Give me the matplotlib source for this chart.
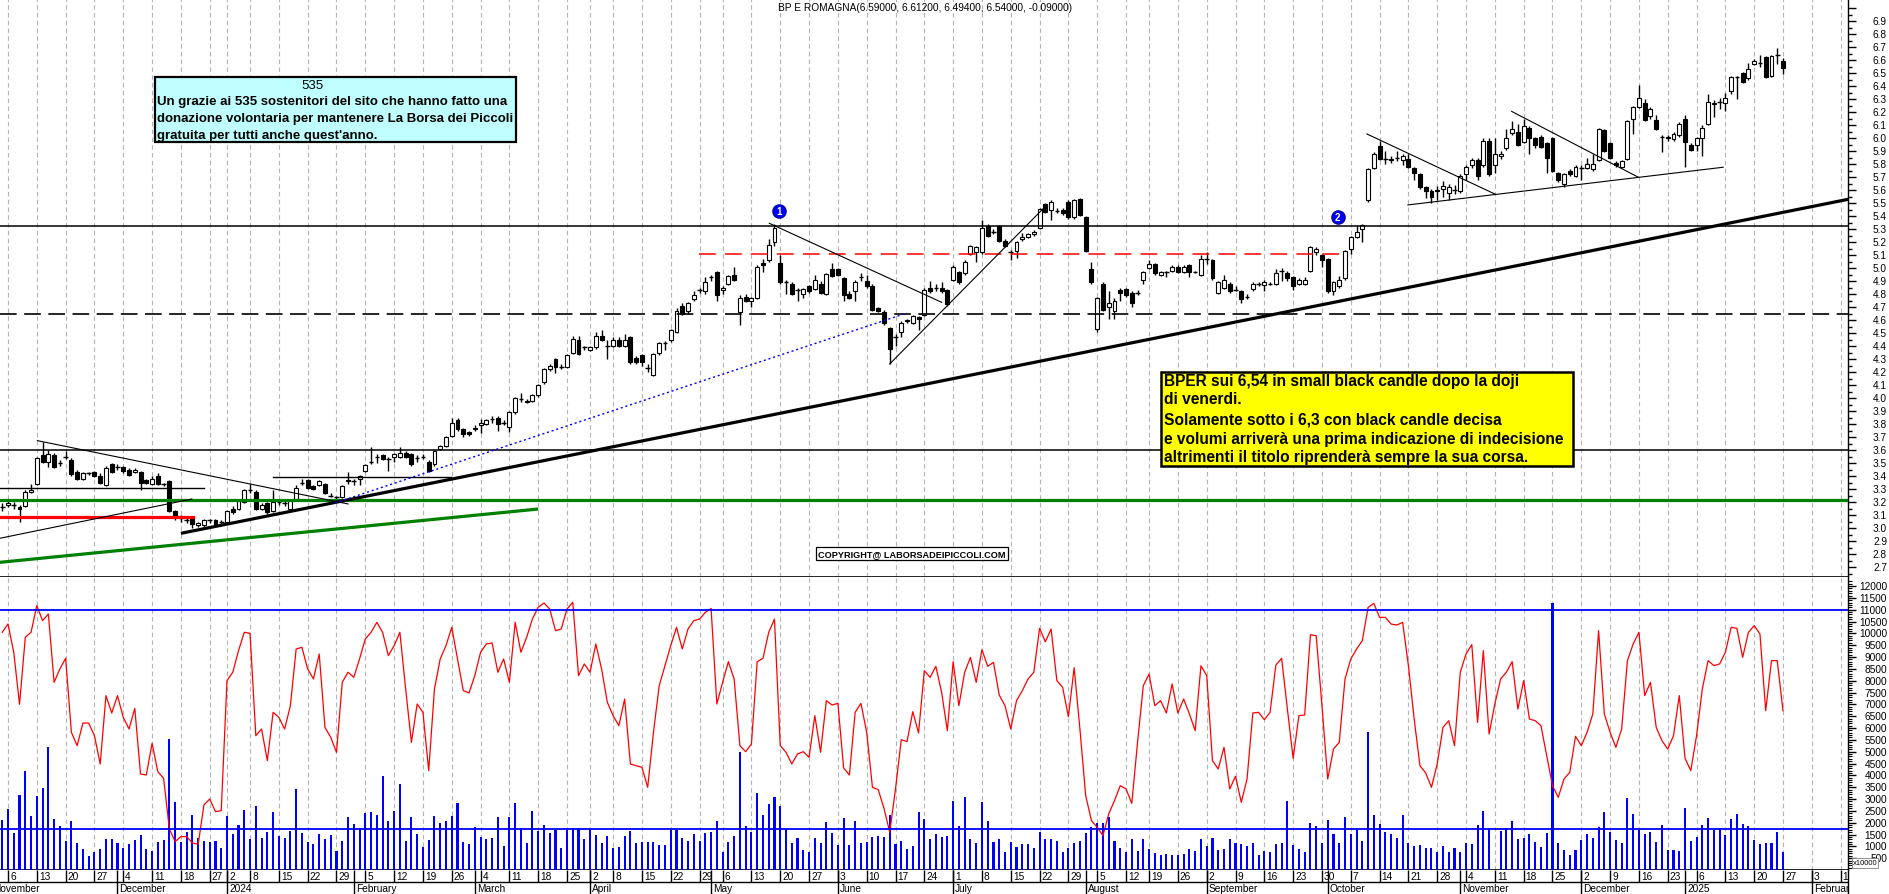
import numpy as np
import pandas as pd
import matplotlib
matplotlib.use("Agg")
import matplotlib.pyplot as plt
from matplotlib.patches import Rectangle

plt.rcParams['font.family'] = ['Liberation Sans', 'DejaVu Sans']

W, H = 1890, 895

# trading calendar (Borsa Italiana closures removed)
holidays = pd.to_datetime(["2023-12-25", "2023-12-26", "2024-01-01", "2024-03-29", "2024-04-01",
                           "2024-05-01", "2024-08-15", "2024-12-24", "2024-12-25", "2024-12-26",
                           "2024-12-31", "2025-01-01"])
days = pd.bdate_range("2023-11-01", "2025-02-14")
days = days[~days.isin(holidays)]
pos = np.arange(len(days)) - 3          # 6 Nov 2023 -> 0
first_bar = 2                           # data starts 3 Nov 2023

opens = [
    3.16, 3.18, 3.18, 3.16, 3.17, 3.28, 3.34, 3.56, 3.51, 3.565,
    3.50, 3.55, 3.52, 3.43, 3.38, 3.42, 3.43, 3.40, 3.33, 3.49,
    3.47, 3.47, 3.45, 3.43, 3.43, 3.37, 3.34, 3.40, 3.34, 3.36,
    3.13, 3.08, 3.06, 3.08, 3.02, 3.02, 3.06, 3.06, 3.05, 3.05,
    3.15, 3.15, 3.20, 3.29, 3.28, 3.15, 3.19, 3.13, 3.20, 3.19,
    3.15, 3.22, 3.35, 3.37, 3.32, 3.33, 3.34, 3.25, 3.24, 3.24,
    3.36, 3.36, 3.38, 3.44, 3.51, 3.55, 3.56, 3.53, 3.55, 3.55,
    3.58, 3.57, 3.54, 3.55, 3.51, 3.49, 3.61, 3.63, 3.71, 3.83,
    3.76, 3.74, 3.76, 3.79, 3.80, 3.84, 3.85, 3.81, 3.775, 3.89,
    3.99, 3.98, 3.98, 4.02, 4.12, 4.22, 4.30, 4.24, 4.24, 4.35,
    4.45, 4.39, 4.37, 4.39, 4.48, 4.40, 4.40, 4.45, 4.40, 4.47,
    4.31, 4.33, 4.23, 4.18, 4.35, 4.42, 4.45, 4.51, 4.71, 4.67,
    4.76, 4.83, 4.82, 4.93, 4.97, 4.83, 4.88, 4.95, 4.66, 4.78,
    4.75, 4.77, 5.04, 5.06, 5.20, 5.04, 4.89, 4.88, 4.83, 4.80,
    4.86, 4.84, 4.88, 4.80, 4.99, 4.99, 4.92, 4.80, 4.82, 4.93,
    4.90, 4.86, 4.69, 4.66, 4.54, 4.47, 4.51, 4.60, 4.58, 4.62,
    4.64, 4.85, 4.85, 4.85, 4.83, 4.91, 4.97, 4.96, 5.11, 5.12,
    5.12, 5.32, 5.28, 5.32, 5.21, 5.12, 5.13, 5.22, 5.24, 5.26,
    5.31, 5.49, 5.45, 5.44, 5.45, 5.51, 5.39, 5.53, 5.39, 4.99,
    4.53, 4.88, 4.70, 4.67, 4.83, 4.84, 4.81, 4.81, 4.91, 5.00,
    5.03, 4.95, 4.97, 4.98, 5.01, 4.97, 5.02, 4.97, 4.95, 5.07,
    5.06, 4.81, 4.85, 4.88, 4.83, 4.82, 4.78, 4.84, 4.88, 4.87,
    4.88, 4.88, 4.98, 4.96, 4.93, 4.88, 4.88, 4.98, 5.12, 5.10,
    5.07, 4.82, 4.86, 4.92, 5.15, 5.24, 5.30, 5.52, 5.77, 5.94,
    5.84, 5.83, 5.85, 5.83, 5.84, 5.77, 5.72, 5.62, 5.59, 5.60,
    5.61, 5.58, 5.60, 5.59, 5.72, 5.79, 5.83, 5.79, 5.98, 5.79,
    5.86, 5.92, 6.04, 6.05, 5.97, 6.08, 6.00, 6.01, 5.96, 6.00,
    5.73, 5.65, 5.75, 5.71, 5.77, 5.77, 5.76, 5.83, 6.06, 5.96,
    5.81, 5.78, 5.84, 6.15, 6.24, 6.27, 6.17, 6.14, 6.01, 6.01,
    5.99, 6.02, 6.15, 5.95, 5.95, 6.00, 6.11, 6.26, 6.28, 6.27,
    6.36, 6.47, 6.50, 6.46, 6.57, 6.58, 6.62, 6.48, 6.64, 6.59,
]
highs = [
    3.19, 3.21, 3.20, 3.18, 3.29, 3.34, 3.55, 3.66, 3.60, 3.58,
    3.52, 3.59, 3.54, 3.45, 3.43, 3.43, 3.44, 3.42, 3.48, 3.50,
    3.49, 3.48, 3.46, 3.46, 3.44, 3.38, 3.40, 3.42, 3.35, 3.37,
    3.14, 3.10, 3.08, 3.09, 3.05, 3.07, 3.07, 3.07, 3.06, 3.14,
    3.17, 3.22, 3.30, 3.34, 3.29, 3.19, 3.20, 3.29, 3.22, 3.22,
    3.22, 3.33, 3.38, 3.38, 3.33, 3.37, 3.35, 3.27, 3.25, 3.33,
    3.43, 3.38, 3.41, 3.49, 3.62, 3.57, 3.57, 3.55, 3.58, 3.62,
    3.59, 3.58, 3.56, 3.57, 3.52, 3.60, 3.64, 3.71, 3.85, 3.85,
    3.77, 3.75, 3.79, 3.84, 3.84, 3.86, 3.86, 3.83, 3.90, 4.01,
    4.04, 3.99, 4.03, 4.11, 4.23, 4.26, 4.31, 4.26, 4.34, 4.48,
    4.48, 4.40, 4.40, 4.51, 4.52, 4.45, 4.47, 4.47, 4.49, 4.48,
    4.32, 4.34, 4.26, 4.35, 4.43, 4.44, 4.53, 4.69, 4.73, 4.74,
    4.82, 4.85, 4.93, 4.95, 4.98, 4.86, 4.95, 5.01, 4.79, 4.80,
    4.78, 5.02, 5.07, 5.22, 5.34, 5.10, 4.91, 4.89, 4.85, 4.85,
    4.87, 4.95, 4.90, 4.96, 5.04, 5.00, 4.93, 4.82, 4.91, 4.96,
    4.95, 4.88, 4.70, 4.68, 4.55, 4.49, 4.59, 4.61, 4.64, 4.63,
    4.85, 4.90, 4.88, 4.89, 4.84, 5.02, 4.98, 5.06, 5.18, 5.17,
    5.37, 5.34, 5.30, 5.33, 5.22, 5.14, 5.21, 5.27, 5.27, 5.29,
    5.46, 5.50, 5.52, 5.46, 5.46, 5.52, 5.53, 5.54, 5.40, 5.05,
    4.78, 4.89, 4.82, 4.77, 4.85, 4.85, 4.82, 4.83, 4.98, 5.06,
    5.04, 4.98, 4.98, 5.02, 5.02, 5.02, 5.03, 4.98, 5.10, 5.12,
    5.07, 4.90, 4.95, 4.89, 4.86, 4.83, 4.80, 4.89, 4.89, 4.91,
    4.89, 4.99, 5.00, 4.98, 4.94, 4.92, 4.93, 5.17, 5.16, 5.11,
    5.08, 4.90, 4.94, 5.14, 5.25, 5.33, 5.34, 5.77, 5.89, 5.98,
    5.90, 5.86, 5.90, 5.88, 5.88, 5.78, 5.73, 5.63, 5.61, 5.63,
    5.67, 5.65, 5.64, 5.72, 5.79, 5.85, 5.85, 6.00, 6.00, 6.00,
    5.90, 6.07, 6.13, 6.11, 6.15, 6.09, 6.01, 6.02, 5.97, 6.01,
    5.74, 5.73, 5.76, 5.79, 5.79, 5.85, 5.88, 6.08, 6.07, 5.97,
    5.82, 5.83, 6.14, 6.25, 6.41, 6.30, 6.24, 6.18, 6.02, 6.02,
    6.05, 6.12, 6.18, 5.96, 6.01, 6.10, 6.34, 6.29, 6.31, 6.35,
    6.48, 6.48, 6.51, 6.58, 6.61, 6.64, 6.63, 6.64, 6.69, 6.612,
]
lows = [
    3.13, 3.16, 3.15, 3.05, 3.16, 3.27, 3.33, 3.50, 3.47, 3.46,
    3.48, 3.53, 3.40, 3.37, 3.37, 3.41, 3.39, 3.34, 3.32, 3.42,
    3.45, 3.42, 3.40, 3.42, 3.29, 3.34, 3.33, 3.33, 3.32, 3.12,
    3.06, 3.05, 3.04, 3.00, 3.01, 3.01, 3.04, 3.01, 3.03, 3.04,
    3.11, 3.14, 3.19, 3.27, 3.14, 3.14, 3.11, 3.12, 3.18, 3.17,
    3.14, 3.21, 3.33, 3.30, 3.29, 3.32, 3.26, 3.24, 3.22, 3.23,
    3.34, 3.33, 3.33, 3.43, 3.49, 3.50, 3.52, 3.44, 3.51, 3.54,
    3.54, 3.48, 3.51, 3.53, 3.43, 3.48, 3.60, 3.62, 3.70, 3.75,
    3.70, 3.71, 3.75, 3.73, 3.79, 3.81, 3.75, 3.79, 3.74, 3.88,
    3.97, 3.96, 3.97, 4.01, 4.11, 4.21, 4.19, 4.22, 4.23, 4.34,
    4.33, 4.37, 4.36, 4.38, 4.44, 4.30, 4.39, 4.39, 4.39, 4.26,
    4.26, 4.25, 4.20, 4.17, 4.33, 4.37, 4.43, 4.50, 4.64, 4.65,
    4.75, 4.81, 4.80, 4.90, 4.75, 4.80, 4.87, 4.90, 4.56, 4.74,
    4.70, 4.76, 4.97, 5.05, 5.17, 4.88, 4.80, 4.79, 4.75, 4.77,
    4.81, 4.83, 4.80, 4.79, 4.93, 4.94, 4.75, 4.76, 4.75, 4.90,
    4.85, 4.67, 4.66, 4.56, 4.26, 4.40, 4.47, 4.58, 4.57, 4.52,
    4.63, 4.81, 4.82, 4.81, 4.71, 4.90, 4.88, 4.95, 5.10, 5.05,
    5.11, 5.24, 5.26, 5.20, 5.16, 5.06, 5.08, 5.21, 5.23, 5.25,
    5.30, 5.42, 5.37, 5.42, 5.41, 5.38, 5.38, 5.40, 5.12, 4.88,
    4.51, 4.67, 4.61, 4.61, 4.75, 4.78, 4.70, 4.79, 4.88, 4.99,
    4.95, 4.94, 4.93, 4.97, 4.96, 4.96, 4.93, 4.96, 4.94, 5.03,
    4.91, 4.80, 4.84, 4.81, 4.82, 4.73, 4.76, 4.82, 4.86, 4.82,
    4.87, 4.87, 4.90, 4.90, 4.83, 4.87, 4.87, 4.97, 5.10, 5.01,
    4.81, 4.79, 4.85, 4.91, 5.11, 5.23, 5.20, 5.51, 5.76, 5.83,
    5.80, 5.81, 5.82, 5.79, 5.77, 5.68, 5.61, 5.54, 5.50, 5.52,
    5.55, 5.52, 5.57, 5.58, 5.68, 5.77, 5.68, 5.78, 5.71, 5.73,
    5.84, 5.91, 6.02, 5.94, 5.96, 5.88, 5.92, 5.92, 5.73, 5.74,
    5.66, 5.62, 5.71, 5.70, 5.68, 5.76, 5.75, 5.82, 5.89, 5.84,
    5.78, 5.77, 5.83, 6.03, 6.23, 6.13, 6.15, 6.06, 5.89, 5.98,
    5.98, 6.01, 5.78, 5.90, 5.90, 5.86, 6.10, 6.16, 6.22, 6.21,
    6.34, 6.30, 6.42, 6.45, 6.56, 6.55, 6.46, 6.47, 6.57, 6.494,
]
closes = [
    3.16, 3.19, 3.18, 3.15, 3.28, 3.29, 3.54, 3.51, 3.57, 3.47,
    3.50, 3.55, 3.415, 3.38, 3.42, 3.42, 3.40, 3.35, 3.46, 3.43,
    3.47, 3.44, 3.41, 3.45, 3.35, 3.35, 3.38, 3.34, 3.34, 3.13,
    3.09, 3.08, 3.06, 3.03, 3.04, 3.06, 3.06, 3.02, 3.05, 3.13,
    3.12, 3.21, 3.29, 3.29, 3.15, 3.18, 3.12, 3.20, 3.20, 3.19,
    3.21, 3.31, 3.35, 3.31, 3.30, 3.36, 3.27, 3.25, 3.24, 3.32,
    3.37, 3.36, 3.40, 3.485, 3.51, 3.55, 3.53, 3.53, 3.57, 3.58,
    3.55, 3.49, 3.54, 3.55, 3.44, 3.59, 3.63, 3.70, 3.81, 3.76,
    3.72, 3.72, 3.77, 3.81, 3.83, 3.84, 3.80, 3.81, 3.89, 4.00,
    3.99, 3.97, 4.02, 4.10, 4.22, 4.25, 4.24, 4.24, 4.33, 4.45,
    4.34, 4.39, 4.39, 4.48, 4.45, 4.40, 4.45, 4.40, 4.45, 4.28,
    4.28, 4.28, 4.23, 4.34, 4.42, 4.42, 4.52, 4.67, 4.65, 4.73,
    4.79, 4.83, 4.89, 4.93, 4.79, 4.85, 4.94, 4.91, 4.77, 4.75,
    4.77, 5.01, 5.02, 5.18, 5.31, 4.89, 4.89, 4.80, 4.83, 4.84,
    4.82, 4.91, 4.81, 4.95, 4.94, 4.95, 4.79, 4.77, 4.89, 4.93,
    4.86, 4.68, 4.67, 4.58, 4.38, 4.47, 4.58, 4.59, 4.63, 4.61,
    4.83, 4.82, 4.85, 4.82, 4.72, 5.01, 4.89, 5.05, 5.17, 5.16,
    5.31, 5.25, 5.28, 5.21, 5.17, 5.12, 5.20, 5.24, 5.26, 5.28,
    5.45, 5.43, 5.51, 5.44, 5.42, 5.39, 5.52, 5.41, 5.13, 4.89,
    4.77, 4.68, 4.73, 4.75, 4.81, 4.79, 4.73, 4.81, 4.97, 5.03,
    4.96, 4.97, 4.97, 5.01, 4.97, 5.01, 4.97, 4.97, 5.07, 5.07,
    4.92, 4.89, 4.91, 4.82, 4.83, 4.76, 4.78, 4.88, 4.88, 4.89,
    4.88, 4.96, 4.98, 4.92, 4.86, 4.91, 4.91, 5.16, 5.15, 5.06,
    4.82, 4.89, 4.91, 5.13, 5.24, 5.28, 5.33, 5.76, 5.88, 5.84,
    5.84, 5.84, 5.85, 5.86, 5.78, 5.73, 5.62, 5.59, 5.55, 5.59,
    5.63, 5.62, 5.60, 5.71, 5.78, 5.83, 5.71, 5.98, 5.72, 5.88,
    5.88, 6.00, 6.07, 5.95, 6.09, 6.00, 5.95, 5.93, 5.85, 5.75,
    5.68, 5.72, 5.72, 5.78, 5.77, 5.80, 5.80, 6.07, 5.90, 5.85,
    5.79, 5.82, 6.13, 6.24, 6.31, 6.14, 6.22, 6.07, 6.01, 6.00,
    6.03, 6.11, 5.97, 5.91, 6.00, 6.08, 6.28, 6.27, 6.28, 6.31,
    6.47, 6.47, 6.43, 6.53, 6.59, 6.58, 6.47, 6.63, 6.64, 6.54,
]
volume = [
    2114, 2578, 1565, 3170, 4184, 2297, 3114, 3466, 5197, 2156,
    1847, 1241, 2072, 1128, 875, 607, 776, 875, 1311, 1311,
    1142, 945, 1086, 1269, 1480, 889, 805, 1170, 1255, 5535,
    2860, 1199, 1593, 2325, 1340, 1213, 1199, 1227, 917, 2269,
    1508, 1903, 2536, 1297, 2705, 1340, 1593, 2438, 1452, 1368,
    1635, 3424, 1565, 1199, 1086, 1508, 1311, 1480, 819, 1241,
    2227, 1945, 1762, 2410, 2452, 2325, 3958, 2072, 2494, 3620,
    1227, 2241, 1522, 959, 1269, 2283, 1987, 2072, 2283, 2818,
    1170, 1086, 1818, 1410, 1311, 1368, 2255, 1030, 2241, 2818,
    1776, 1142, 2480, 1635, 1903, 1565, 1691, 931, 1691, 1776,
    1776, 1311, 1691, 1480, 1142, 1452, 917, 987, 1452, 1635,
    1157, 1170, 1185, 1185, 1072, 1072, 1748, 1691, 1340, 1241,
    1536, 1241, 1551, 1621, 2072, 748, 1199, 1452, 4999, 1847,
    1607, 3255, 2311, 2804, 3086, 2705, 1748, 1142, 1354, 847,
    748, 1354, 1142, 2015, 1551, 1072, 2213, 1058, 2072, 1157,
    1199, 1396, 1424, 1382, 2325, 1100, 1213, 889, 1016, 2438,
    2156, 1311, 1522, 1396, 1424, 2917, 1875, 3086, 1311, 1142,
    2874, 2072, 1199, 1297, 748, 1199, 987, 1086, 1086, 917,
    1593, 1297, 1311, 1241, 748, 931, 1128, 1241, 1565, 1818,
    1987, 1987, 2227, 1227, 945, 762, 1311, 819, 1311, 875,
    734, 650, 692, 650, 621, 664, 889, 790, 1311, 1030,
    1354, 833, 875, 1311, 1157, 1100, 1030, 1142, 636, 805,
    762, 1086, 1157, 2917, 1058, 903, 762, 1987, 1861, 1142,
    2100, 1536, 1142, 2227, 1522, 1677, 1227, 5817, 2325, 1959,
    1607, 1522, 1354, 2310, 1127, 1031, 1056, 930, 930, 775,
    1031, 746, 915, 760, 1141, 1085, 1901, 2493, 1760, 0,
    1656, 1760, 2070, 1310, 1352, 1521, 1169, 986, 1578, 11300,
    1127, 860, 648, 860, 1282, 1507, 1338, 1831, 2465, 1592,
    1282, 1141, 3028, 2352, 1676, 1535, 1620, 1169, 1901, 860,
    860, 789, 2634, 1225, 1380, 1887, 2183, 1690, 1760, 1465,
    2141, 2352, 1929, 1873, 1282, 1113, 1127, 1127, 1620, 746,
]
oscillator = [
    10045, 10397, 9200, 7000, 9834, 10045, 11170, 10537, 10819, 7933,
    8496, 8946, 5817, 5254, 6211, 6211, 5676, 4479, 7370, 6634,
    7370, 6451, 5958, 6831, 4057, 4015, 5352, 4156, 3874, 1734,
    1199, 1410, 1410, 1142, 1086, 2748, 3001, 2466, 2508, 8003,
    8356, 9270, 10045, 10000, 5676, 5958, 4620, 6662, 6451, 5958,
    6943, 9341, 9412, 8496, 8074, 9130, 6028, 5606, 4972, 7933,
    8356, 8144, 8918, 9763, 10045, 10467, 10045, 9060, 9482, 10045,
    7652, 5395, 7014, 6662, 4198, 7652, 8918, 9482, 10256, 8918,
    7581, 7483, 8215, 9200, 9552, 9594, 8356, 8918, 7933, 10467,
    9200, 9834, 10608, 11101, 11284, 11030, 10115, 10186, 11030, 11312,
    8215, 8707, 8356, 9552, 8496, 7084, 6521, 6098, 7225, 4479,
    4409, 4338, 3494, 5817, 7792, 8637, 9482, 10256, 9341, 10186,
    10537, 10605, 10886, 11055, 7015, 7930, 8803, 8071, 5255, 5001,
    5325, 8803, 8944, 10042, 10605, 5255, 4973, 4480, 4903, 5001,
    4762, 6522, 4973, 7156, 6973, 7043, 4311, 4015, 6663, 7043,
    5818, 3494, 3396, 2607, 1594, 3424, 5508, 5424, 6691, 5790,
    8423, 8141, 8606, 7508, 5888, 8803, 6944, 8352, 8986, 7930,
    9310, 8606, 8775, 7395, 6944, 5958, 7156, 7578, 8071, 8352,
    10211, 9647, 10182, 8000, 7719, 6480, 8550, 5958, 3143, 2087,
    1805, 1453, 2368, 2931, 3565, 3424, 2818, 5395, 7789, 8282,
    6944, 7156, 6635, 7860, 6635, 7226, 6593, 5888, 8634, 8212,
    4621, 4269, 5184, 3424, 3959, 2861, 3846, 6635, 6663, 6353,
    6663, 8662, 8944, 6803, 4720, 6522, 6550, 9943, 9901, 6944,
    3846, 5114, 5395, 8071, 8916, 9338, 9690, 11098, 11267, 10675,
    10675, 10394, 10352, 10467, 8637, 6380, 4409, 4099, 3494, 4479,
    6028, 6310, 5254, 8356, 9130, 9524, 6240, 9270, 5747, 7014,
    8074, 8356, 8806, 6803, 8003, 6380, 6310, 6098, 4831, 3564,
    3071, 3846, 4127, 5648, 5254, 5817, 6591, 10115, 6591, 5817,
    5183, 5958, 8848, 9552, 10045, 7370, 7933, 6028, 5465, 5113,
    5676, 7370, 4719, 4198, 5676, 7652, 8848, 8637, 8707, 9200,
    10256, 10214, 8989, 10045, 10327, 9974, 6732, 8848, 8848, 6732,
]

# drawn levels / trend lines, in (bar index, price)
level_black = [5.32, 3.60]
level_dashed = 4.65
level_green = 3.215
red_dashed = [(119.9, 5.105), (231.1, 5.105)]
red_level = [(-1.4, 3.087), (32.1, 3.087)]
short_level1 = [(-1.4, 3.31), (34.0, 3.31)]
short_level2 = [(46.0, 3.39), (76.9, 3.39)]
thin_lines = [
    [(-1.4, 2.921), (31.9, 3.223)],
    [(5.1, 3.672), (59.0, 3.185)],
    [(132.1, 5.344), (162.0, 4.736)],
    [(153.0, 4.262), (179.9, 5.469)],
    [(235.8, 6.031), (258.0, 5.569)],
    [(242.9, 5.485), (297.6, 5.775)],
    [(260.9, 6.205), (282.9, 5.698)],
]
thick_trend = [(30.0, 2.959), (319.6, 5.531)]
green_trend = [(-1.4, 2.736), (92.0, 3.146)]
blue_dotted = [(56.7, 3.192), (156.0, 4.654)]
markers = [("1", 133.8, 5.44), ("2", 230.7, 5.39)]
osc_levels = [11000, 1750]

opens, highs, lows, closes = map(np.array, (opens, highs, lows, closes))
x = pos[first_bar:first_bar + len(closes)]

fig = plt.figure(figsize=(W / 100, H / 100), dpi=100)
fig.patch.set_facecolor("white")
xl = ((0 - 8) / 5.763, (1848 - 8) / 5.763)
ax1 = fig.add_axes([0, 317 / H, 1848 / W, 578 / H])
ax2 = fig.add_axes([0, 24 / H, 1848 / W, 293 / H])
ax3 = fig.add_axes([0, 0, 1848 / W, 24 / H])
ax1.set_ylim(6.9 - 556 / 130, 6.9 + 22 / 130)
ax2.set_ylim(0, 293 * 42.26)
ax3.set_ylim(0, 24)
for ax in (ax1, ax2, ax3):
    ax.set_xlim(*xl)
    ax.set_xticks([])
    for s in ("left", "top"):
        ax.spines[s].set_visible(False)
    ax.spines["right"].set_linewidth(1.0)
    ax.spines["bottom"].set_linewidth(1.2)
ax3.spines["bottom"].set_visible(False)
ax3.set_yticks([])

# week / month boundaries
per_w = days.to_period("W")
per_m = days.to_period("M")
week_idx = [k for k in range(len(days)) if (k == 0 or per_w[k] != per_w[k - 1])
            and days[k] != pd.Timestamp("2024-12-30") and pos[k] > xl[0]]
month_idx = [k for k in range(len(days)) if k == 0 or per_m[k] != per_m[k - 1]]
wpos = pos[week_idx]

grid_kw = dict(color="#b4b4b4", lw=0.8, linestyles=(0, (4, 3)), zorder=1)
ax1.vlines(wpos, *ax1.get_ylim(), **grid_kw)
ax2.vlines(wpos, *ax2.get_ylim(), **grid_kw)

# candles
ax1.vlines(x, lows, highs, color="black", lw=1.0, zorder=3)
body_lo = np.minimum(opens, closes)
body_h = np.abs(closes - opens)
is_cross = body_h < 0.006
up = (closes > opens) & ~is_cross
dn = (closes < opens) & ~is_cross
ax1.bar(x[up], body_h[up], bottom=body_lo[up], width=0.68, facecolor="white",
        edgecolor="black", lw=0.8, zorder=4)
ax1.bar(x[dn], body_h[dn], bottom=body_lo[dn], width=0.68, facecolor="black",
        edgecolor="black", lw=0.8, zorder=4)
ax1.hlines(opens[is_cross], x[is_cross] - 0.4, x[is_cross] + 0.4, color="black", lw=1.0, zorder=4)

# levels and trend lines
for lv in level_black:
    ax1.axhline(lv, color="black", lw=1.1, zorder=5)
ax1.plot(xl, [level_dashed] * 2, color="black", lw=1.2, ls=(0, (10, 4.5)), zorder=5)
ax1.axhline(level_green, color="#008000", lw=2.3, zorder=5)
ax1.plot(*zip(*red_dashed), color="#ff0000", lw=1.1, ls=(0, (11, 6)), zorder=5)
ax1.plot(*zip(*red_level), color="#ff0000", lw=2.3, zorder=5)
ax1.plot(*zip(*short_level1), color="black", lw=1.0, zorder=5)
ax1.plot(*zip(*short_level2), color="black", lw=1.0, zorder=5)
for ln in thin_lines:
    ax1.plot(*zip(*ln), color="black", lw=0.8, zorder=5)
ax1.plot(*zip(*thick_trend), color="black", lw=2.3, zorder=5, solid_capstyle="butt")
ax1.plot(*zip(*green_trend), color="#008000", lw=2.3, zorder=5, solid_capstyle="butt")
ax1.plot(*zip(*blue_dotted), color="#0000ff", lw=1.0, ls=(0, (1.5, 2)), zorder=5)
for lab, mx, my in markers:
    ax1.plot(mx, my, "o", ms=9.5, color="#0000ff", mec="#0000aa", zorder=7)
    ax1.text(mx, my, lab, color="white", fontsize=7, fontweight="bold",
             ha="center", va="center", zorder=8)

# lower panel
xv = pos[first_bar:first_bar + len(volume)]
ax2.bar(xv, volume, width=0.36, color="#0000ff", zorder=3)
ax2.plot(xv, oscillator, color="#ff0000", lw=0.9, zorder=4)
for lv in osc_levels:
    ax2.axhline(lv, color="#0000ff", lw=1.3, zorder=5)

# right axis ticks
ax1.yaxis.tick_right()
ax1.set_yticks(np.round(np.arange(2.7, 7.05, 0.1), 2))
ax1.set_yticks(np.round(np.arange(2.65, 7.05, 0.05), 3), minor=True)
ax1.tick_params(axis="y", which="major", length=6, width=1, labelright=False)
ax1.tick_params(axis="y", which="minor", length=3, width=1)
ax2.yaxis.tick_right()
ax2.set_yticks(np.arange(500, 12001, 500))
ax2.set_yticks(np.arange(100, 12300, 100), minor=True)
ax2.tick_params(axis="y", which="major", length=6, width=1, labelright=False)
ax2.tick_params(axis="y", which="minor", length=3, width=0.8)

for p in np.arange(2.7, 6.95, 0.1):
    fig.text(1887 / W, 1 - (22 + (6.9 - p) * 130) / H, f"{p:.1f}", ha="right", va="center",
             fontsize=7.3)
for v in range(500, 12001, 500):
    fig.text(1887 / W, 1 - (871 - v / 42.26) / H, str(v), ha="right", va="center",
             fontsize=7.3)
fig.text(1865 / W, 1 - 864 / H, "x10000", ha="center", va="center", fontsize=5.5,
         bbox=dict(boxstyle="square,pad=0.15", fc="white", ec="#808080", lw=0.6))

# date rows
ax3.axhline(12, color="black", lw=1.0)
ax3.vlines(wpos, 12, 24, color="black", lw=1.0)
for k in week_idx:
    ax3.text(pos[k] + 0.35, 18, str(days[k].day), fontsize=7.3, ha="left", va="center",
             clip_on=True)
mpos = pos[month_idx]
ax3.vlines(mpos, 0, 24, color="black", lw=1.0)
for k in month_idx:
    d = days[k]
    lab = str(d.year) if d.month == 1 else d.strftime("%B")
    ax3.text(pos[k] + 0.35, 5.5, lab, fontsize=7.3, ha="left", va="center", clip_on=True)

# texts
fig.text(925 / W, 1 - 8 / H, "BP E ROMAGNA(6.59000, 6.61200, 6.49400, 6.54000, -0.09000)",
         ha="center", va="center", fontsize=7.3)

fig.add_artist(Rectangle((155 / W, 1 - 143.3 / H), 360.6 / W, 65.6 / H, transform=fig.transFigure,
                         facecolor="#c0ffff", edgecolor="black", lw=1.6, zorder=10))
narrow = ["Liberation Sans Narrow", "Liberation Sans", "DejaVu Sans"]
fig.text(312.5 / W, 1 - 86 / H, "535", ha="center", va="center", fontsize=9.5,
         family=narrow, zorder=11)
box_lines = ["Un grazie ai 535 sostenitori del sito che hanno fatto una",
             "donazione volontaria per mantenere La Borsa dei Piccoli",
             "gratuita per tutti anche quest'anno."]
for n, t in enumerate(box_lines):
    fig.text(157 / W, 1 - (102.5 + 16.5 * n) / H, t, ha="left", va="center", fontsize=9.5,
             fontweight="bold", family=narrow, zorder=11)

fig.add_artist(Rectangle((1161 / W, 1 - 466.7 / H), 412 / W, 94 / H, transform=fig.transFigure,
                         facecolor="#ffff00", edgecolor="black", lw=1.8, zorder=10))
note = ["BPER sui 6,54 in small black candle dopo la doji",
        "di venerdi.",
        "Solamente sotto i 6,3 con black candle decisa",
        "e volumi arriverà una prima indicazione di indecisione",
        "altrimenti il titolo riprenderà sempre la sua corsa."]
for n, (t, yy) in enumerate(zip(note, [381.5, 400, 420, 439.3, 457.3])):
    fig.text(1164 / W, 1 - yy / H, t, ha="left", va="center", fontsize=11.2,
             fontweight="bold", zorder=11)

fig.text(912 / W, 1 - 554.5 / H, "COPYRIGHT@ LABORSADEIPICCOLI.COM", ha="center", va="center",
         fontsize=6.6, fontweight="bold", zorder=11,
         bbox=dict(boxstyle="square,pad=0.2", fc="white", ec="black", lw=0.9))

fig.savefig("out.png", dpi=100)
